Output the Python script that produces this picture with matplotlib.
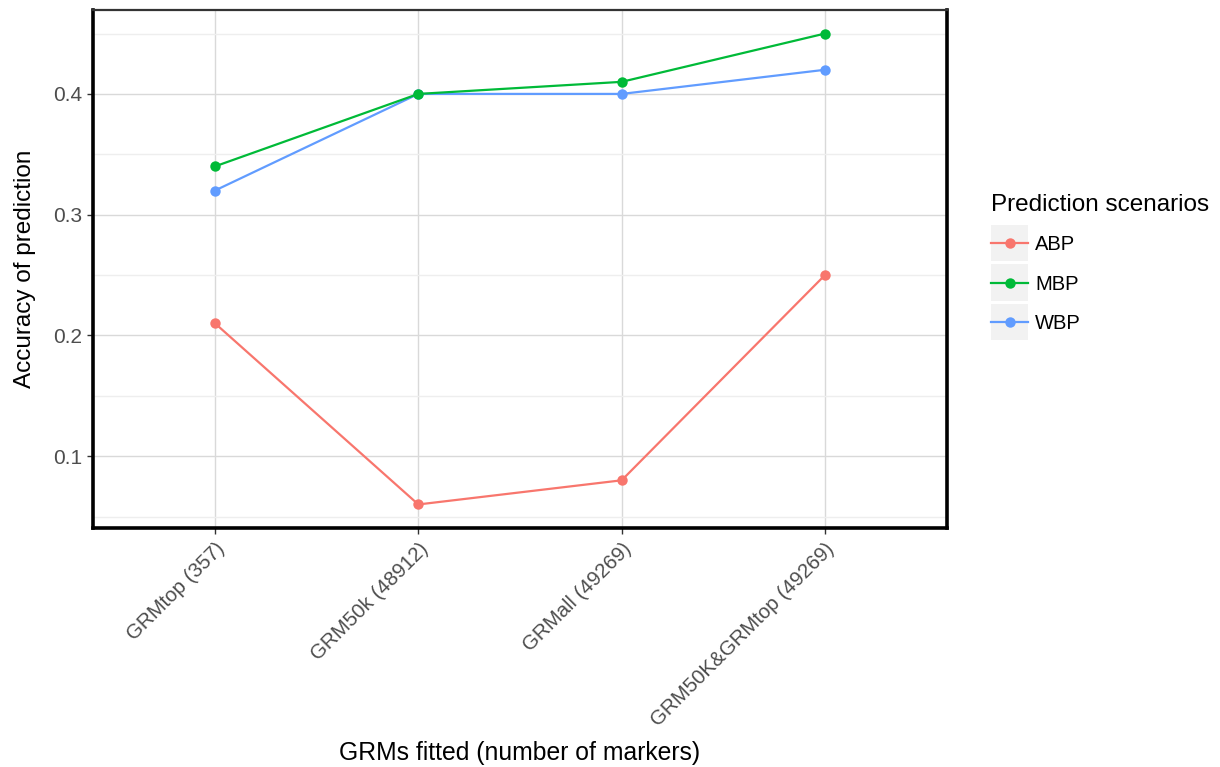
import matplotlib
matplotlib.use("Agg")
import matplotlib.pyplot as plt
from matplotlib.patches import Rectangle
from matplotlib.legend_handler import HandlerLine2D
from matplotlib.lines import Line2D

plt.rcParams['font.family'] = ['Liberation Sans', 'DejaVu Sans']

categories = ["GRMtop (357)", "GRM50k (48912)", "GRMall (49269)", "GRM50K&GRMtop (49269)"]
series_names = ["ABP", "MBP", "WBP"]
abp = [0.21, 0.06, 0.08, 0.25]
mbp = [0.34, 0.40, 0.41, 0.45]
wbp = [0.32, 0.40, 0.40, 0.42]
colors = {"ABP": "#F8766D", "MBP": "#00BA38", "WBP": "#619CFF"}
yticks = [0.1, 0.2, 0.3, 0.4]
minor_yticks = [0.05, 0.15, 0.25, 0.35, 0.45]

fig = plt.figure(figsize=(12.2, 7.67), dpi=100)
ax = fig.add_axes([93/1220, 1 - 528/767, (947 - 93)/1220, (528 - 10)/767])

x = list(range(1, len(categories) + 1))
handles = {}
for name, vals in [("ABP", abp), ("WBP", wbp), ("MBP", mbp)]:
    ln, = ax.plot(x, vals, color=colors[name], lw=1.6, marker='o', ms=7.5,
                  markeredgewidth=0, label=name, zorder=3)
    handles[name] = ln

ymin, ymax = min(abp + mbp + wbp), max(abp + mbp + wbp)
pad = (ymax - ymin) * 0.05
ax.set_ylim(ymin - pad, ymax + pad)
ax.set_xlim(0.4, len(categories) + 0.6)
ax.set_xticks(x)
ax.set_xticklabels(categories, rotation=45, ha='right', rotation_mode='anchor',
                   fontsize=14.8, color='#4D4D4D')
ax.set_yticks(yticks)
ax.set_yticklabels([f"{v:.1f}" for v in yticks], fontsize=15, color='#4D4D4D')
ax.set_yticks(minor_yticks, minor=True)
ax.tick_params(axis='both', which='major', length=4, width=1, color='#333333', pad=4)
ax.tick_params(axis='y', which='minor', length=0)
ax.grid(True, which='major', color='#D9D9D9', lw=1)
ax.grid(True, which='minor', axis='y', color='#EEEEEE', lw=1)
ax.set_axisbelow(True)

for s in ['left', 'bottom', 'right']:
    ax.spines[s].set_color('black')
    ax.spines[s].set_linewidth(2.6)
ax.spines['top'].set_color('#333333')
ax.spines['top'].set_linewidth(1.6)

ax.set_xlabel("GRMs fitted (number of markers)", fontsize=17.8, labelpad=8)
ax.set_ylabel("Accuracy of prediction", fontsize=17.5, labelpad=12)


class KeyHandler(HandlerLine2D):
    def create_artists(self, legend, orig_handle, xdescent, ydescent, width, height, fontsize, trans):
        arts = super().create_artists(legend, orig_handle, xdescent, ydescent, width, height, fontsize, trans)
        h = 26.0
        bg = Rectangle((-xdescent, -ydescent + height / 2 - h / 2), width, h,
                       facecolor='#F2F2F2', edgecolor='none', transform=trans, zorder=-1)
        return [bg] + list(arts)


order = ["ABP", "MBP", "WBP"]
leg = fig.legend([handles[n] for n in order], order, title="Prediction scenarios",
                 loc='upper left', bbox_to_anchor=(991/1220, 1 - 194/767), frameon=False,
                 fontsize=14.5, title_fontsize=17.5, handlelength=1.85, handletextpad=0.35,
                 labelspacing=1.0, borderaxespad=0, borderpad=0,
                 handler_map={Line2D: KeyHandler()})
leg._legend_box.align = "left"
leg._legend_box.sep = 14

fig.savefig("out.png", dpi=100)
